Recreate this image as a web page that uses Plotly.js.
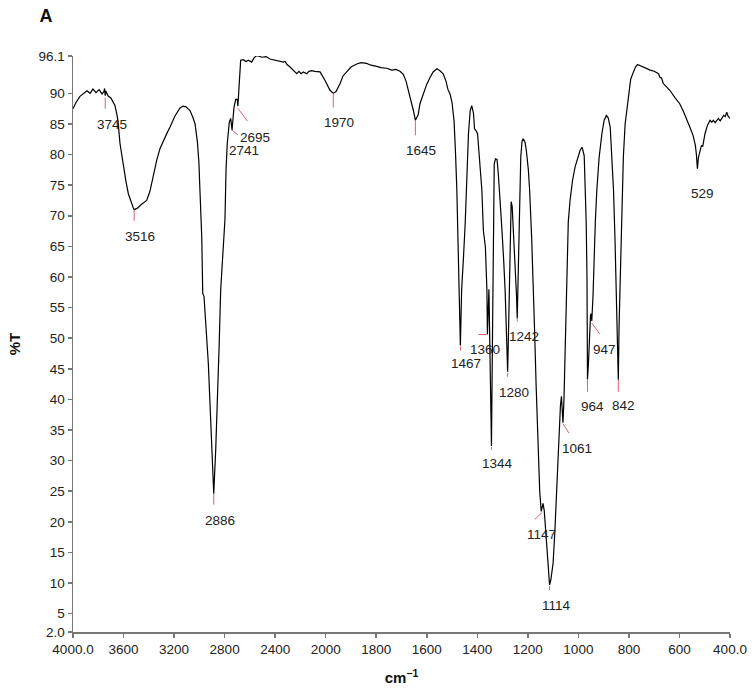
<!DOCTYPE html>
<html>
<head>
<meta charset="utf-8">
<script src="https://cdn.plot.ly/plotly-3.0.1.min.js"></script>
<style>
body { margin: 0; background: #fff; }
#plot { width: 754px; height: 694px; }
</style>
</head>
<body>
<div id="plot"></div>
<script>
// spectrum (cm-1, %T)
var wavenumber = [4000,3976,3945,3918,3889,3865,3842,3818,3794,3770,3755,3750,3745,3740,3723,3699,3683,3668,3654,3644,
  3628,3602,3580,3562,3541,3523,3516,3493,3462,3417,3391,3367,3338,3311,3285,3256,3232,3193,3153,3129,
  3106,3074,3050,3034,3015,3003,2995,2981,2973,2963,2929,2908,2886,2870,2855,2843,2831,2810,2797,2789,
  2779,2763,2752,2741,2726,2712,2700,2695,2684,2678,2673,2652,2631,2612,2586,2567,2546,2506,2472,2441,
  2415,2377,2335,2322,2306,2282,2259,2229,2211,2195,2177,2150,2132,2111,2085,2045,2005,1983,1970,1959,
  1943,1932,1917,1900,1877,1860,1838,1821,1798,1781,1759,1738,1722,1706,1693,1682,1673,1662,1653,1645,
  1634,1627,1614,1600,1587,1575,1560,1548,1535,1524,1516,1508,1500,1492,1486,1481,1475,1470,1467,1462,
  1458,1455,1448,1442,1435,1428,1422,1415,1411,1405,1399,1392,1382,1376,1372,1368,1362,1360,1354,1350,
  1346,1344,1340,1337,1333,1328,1322,1317,1310,1304,1296,1290,1284,1280,1277,1274,1270,1266,1262,1260,
  1254,1250,1245,1242,1238,1235,1228,1223,1218,1211,1206,1198,1193,1185,1177,1173,1167,1160,1153,1147,
  1143,1140,1135,1129,1120,1114,1109,1100,1093,1086,1081,1076,1071,1067,1064,1061,1057,1053,1046,1040,
  1033,1023,1013,1003,993,985,977,972,969,966,964,960,956,952,949,947,942,938,933,927,
  918,907,898,889,882,874,868,861,855,850,845,842,839,833,827,822,815,809,802,793,
  782,774,766,756,744,729,716,700,683,677,671,664,654,638,618,599,586,572,559,546,
  537,533,529,525,519,513,508,499,489,479,472,466,459,452,446,439,432,425,419,413,
  408,400];
var transmittance = [87.5,88.5,89.5,89.9,90.4,90.0,90.7,90.1,90.6,89.9,90.3,90.8,89.6,90.4,89.6,89.2,88.6,88.0,86.7,85.5,
  81.8,78.0,75.5,73.6,72.2,71.3,71.0,71.2,71.8,72.5,74.0,76.5,79.0,81.0,82.3,83.5,84.5,86.3,87.6,87.9,
  87.8,87.2,86.0,85.0,82.0,78.5,74.0,66.5,57.3,56.8,45.9,36.0,24.6,32.0,40.0,49.0,57.9,66.0,69.5,77.4,
  81.8,85.3,85.9,84.0,87.7,89.0,89.0,87.9,91.6,94.3,95.4,95.5,95.2,95.4,95.1,95.8,96.2,95.9,96.0,95.6,
  95.5,95.3,95.1,95.2,94.7,94.3,93.8,93.2,93.6,93.2,93.5,93.2,93.6,93.7,93.6,93.5,92.1,90.5,90.0,90.3,
  91.6,92.8,93.5,94.3,94.8,95.0,94.9,94.6,94.4,94.2,94.1,93.8,93.9,93.6,93.1,92.0,90.5,88.8,87.2,85.6,
  86.5,88.3,89.9,91.5,92.6,93.5,94.0,93.7,93.2,92.0,90.6,89.9,88.5,85.5,80.0,74.2,63.3,54.0,48.8,57.9,
  62.5,63.0,68.7,76.9,83.4,87.2,88.0,86.7,84.2,83.9,83.4,79.6,74.2,67.6,66.5,64.9,57.9,50.6,58.0,50.0,
  38.0,32.4,50.0,70.0,78.5,79.3,79.2,76.9,73.0,68.7,63.0,57.9,50.0,44.5,50.0,57.9,66.0,72.3,71.5,69.8,
  66.0,63.3,57.0,53.2,60.0,68.7,79.6,82.2,82.6,82.0,80.7,77.5,74.2,66.5,57.9,50.8,42.0,32.0,25.0,21.7,
  22.8,23.0,21.8,18.5,13.5,9.7,10.5,13.3,18.5,25.2,31.0,36.1,39.0,40.5,38.0,36.2,40.0,47.0,63.3,69.0,
  72.5,75.8,78.0,79.5,80.7,81.2,79.8,73.0,68.7,60.0,43.3,46.0,50.5,53.8,54.0,52.8,57.0,63.3,69.0,74.2,
  79.5,83.4,85.6,86.4,86.0,84.5,80.5,74.2,66.0,57.9,49.0,43.2,52.0,63.3,72.0,79.6,85.0,87.2,90.0,92.3,
  93.5,94.3,94.7,94.5,94.3,94.0,93.8,93.6,93.2,92.6,92.5,91.6,91.2,90.5,89.3,88.3,87.2,85.9,84.5,83.1,
  81.5,80.0,77.7,79.5,80.7,81.5,81.3,83.4,84.8,85.6,85.3,85.6,85.2,85.7,85.9,85.5,86.0,86.4,86.2,86.9,
  86.3,85.9];

// labelled bands
var peakWn = [3745,3516,2886,2741,2695,1970,1645,1467,1360,1344,1280,1242,1147,1114,1061,964,947,842,529];
var peakT  = [89.6,71.0,24.6,84.0,87.9,90.0,85.6,48.8,50.6,32.4,44.5,53.2,21.7,9.7,36.2,43.3,52.8,43.2,77.7];

var xTickVals = [4000,3600,3200,2800,2400,2000,1800,1600,1400,1200,1000,800,600,400];
var xTickText = ['4000.0','3600','3200','2800','2400','2000','1800','1600','1400','1200','1000','800','600','400.0'];
var yTickVals = [2,5,10,15,20,25,30,35,40,45,50,55,60,65,70,75,80,85,90,96.1];
var yTickText = ['2.0','5','10','15','20','25','30','35','40','45','50','55','60','65','70','75','80','85','90','96.1'];

// the instrument halves the scale below 2000 cm-1
function toAxis(w) {
  return w >= 2000 ? (4000 - w) / 400 : 5 + (2000 - w) / 200;
}

// red tick under each band, pixels [dx0, dy0, dx1, dy1], dy downwards
var markOffsets = [[0,2,0,13],[0,1,0,11],[0,0,0,11],[0,0,6,5],[0,2,9.5,15],[0,0,0,14],[0,0,0,15],
  [0,1,0,5],[-1,0,-9,0],[0,1,0,4],[0,1,0,5],[0,0,0,3],[1,1,-6.5,8],[0,1,0,5],[0,1,6,10.5],
  [0,0,0,12.5],[0,2,8,13],[0,0,0,12],null];
// label position relative to the band, pixels [dx, dy], dy downwards
var labelOffsets = [[6.5,28.7],[6,26.6],[6,27],[12,20],[17,31],[6,29],[6,30],[6,18],[-2,15],[6,17.3],
  [6.5,20.5],[7,17.5],[0,23.5],[7,21],[13.7,25.6],[5,27],[13,28.4],[5,26],[5,25]];

var trace = {
  x: wavenumber.map(toAxis),
  y: transmittance,
  type: 'scatter',
  mode: 'lines',
  line: {color: '#000', width: 1.2},
  hoverinfo: 'skip'
};

var shapes = [];
var annotations = [];
peakWn.forEach(function(w, i) {
  var m = markOffsets[i];
  if (m) {
    shapes.push({
      type: 'line', xref: 'x', yref: 'y',
      xsizemode: 'pixel', ysizemode: 'pixel',
      xanchor: toAxis(w), yanchor: peakT[i],
      x0: m[0], y0: -m[1], x1: m[2], y1: -m[3],
      line: {color: '#e0606e', width: 1}
    });
  }
  annotations.push({
    x: toAxis(w), y: peakT[i], xref: 'x', yref: 'y',
    text: String(w), showarrow: false,
    xanchor: 'center', yanchor: 'middle',
    xshift: labelOffsets[i][0], yshift: -labelOffsets[i][1],
    font: {size: 13.5, color: '#222'}
  });
});

var layout = {
  width: 754,
  height: 694,
  margin: {l: 73, r: 24, t: 55.5, b: 62},
  paper_bgcolor: '#fff',
  plot_bgcolor: '#fff',
  showlegend: false,
  font: {family: 'Liberation Sans, Arial, sans-serif', size: 13, color: '#222'},
  title: {
    text: '<b>A</b>', font: {size: 18, color: '#111'},
    xref: 'container', yref: 'container',
    x: 46 / 754, xanchor: 'center', y: 1 - 16 / 694, yanchor: 'middle'
  },
  xaxis: {
    range: [0, 13],
    tickvals: xTickVals.map(toAxis),
    ticktext: xTickText,
    ticks: 'outside', ticklen: 4, tickcolor: '#777', tickwidth: 1.5,
    showline: true, linecolor: '#777', linewidth: 1.5,
    showgrid: false, zeroline: false,
    tickfont: {size: 13.5, color: '#222'},
    title: {text: '<b>cm<sup>\u22121</sup></b>', font: {size: 15, color: '#111'}, standoff: 17}
  },
  yaxis: {
    range: [2, 96.1],
    tickvals: yTickVals,
    ticktext: yTickText,
    ticks: 'outside', ticklen: 4, tickcolor: '#777', tickwidth: 1.5,
    showline: true, linecolor: '#777', linewidth: 1.5,
    showgrid: false, zeroline: false,
    tickfont: {size: 13.5, color: '#222'},
    title: {text: '<b>%T</b>', font: {size: 15, color: '#111'}, standoff: 14}
  },
  shapes: shapes,
  annotations: annotations
};

Plotly.newPlot('plot', [trace], layout, {staticPlot: true});
</script>
</body>
</html>
